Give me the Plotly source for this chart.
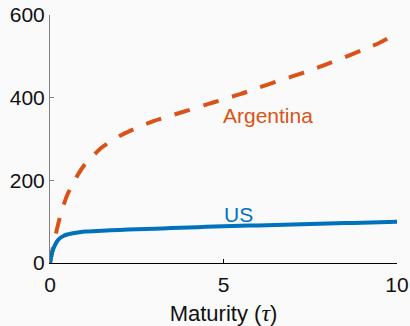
import plotly.graph_objects as go

# Maturities (years) and yields (basis points)
maturity = [0, 0.05, 0.1, 0.2, 0.3, 0.4, 0.5, 0.75, 1, 1.5, 2, 2.5, 3, 3.5, 4,
            4.5, 5, 5.5, 6, 6.5, 7, 7.5, 8, 8.5, 9, 9.5, 10]
argentina = [0, 22, 45, 82, 115, 142, 165, 206, 238, 280, 307, 327, 344, 357, 370,
             383, 396, 409, 424, 438, 452, 466, 482, 498, 515, 533, 555]
us = [0, 22, 35, 52, 61, 66, 69, 73, 76, 78, 80, 81.5, 83, 84.5, 86,
      87.5, 89, 90, 91, 92, 93, 94.3, 95.5, 96.5, 97.5, 98.8, 100]

x_ticks = [0, 5, 10]
y_ticks = [0, 200, 400, 600]

BLUE = "#0072BD"
ORANGE = "#D95319"
BG = "#fafafa"
FONT = "Liberation Sans, Arial, sans-serif"

fig = go.Figure()
fig.add_trace(go.Scatter(
    x=maturity, y=argentina, mode="lines",
    line=dict(color=ORANGE, width=4, dash="16px,14px", shape="spline", smoothing=0.6),
    showlegend=False, hoverinfo="skip", cliponaxis=False))
fig.add_trace(go.Scatter(
    x=maturity, y=us, mode="lines",
    line=dict(color=BLUE, width=4, shape="spline", smoothing=0.6),
    showlegend=False, hoverinfo="skip", cliponaxis=False))

fig.add_annotation(x=6.28, y=356, text="Argentina", showarrow=False,
                   font=dict(family=FONT, size=21, color=ORANGE))
fig.add_annotation(x=5.42, y=118, text="US", showarrow=False,
                   font=dict(family=FONT, size=21, color=BLUE))

fig.update_layout(
    width=410, height=326,
    margin=dict(l=50, r=13, t=15, b=63),
    paper_bgcolor=BG, plot_bgcolor=BG,
    font=dict(family=FONT, size=21, color="#111111"),
)
fig.update_xaxes(
    range=[0, 10], tickvals=x_ticks, ticktext=[str(v) for v in x_ticks],
    showgrid=False, zeroline=False, showline=True, linecolor="#000000", linewidth=1,
    ticks="inside", ticklen=4, tickcolor="#000000", automargin=False,
    ticklabelstandoff=3,
    title=dict(text="Maturity (<span style=\"font-family:'Liberation Serif';font-style:italic;font-size:24px\">τ</span>)",
               standoff=11, font=dict(size=22)),
)
fig.update_yaxes(
    range=[0, 600], tickvals=y_ticks, ticktext=[str(v) for v in y_ticks],
    showgrid=False, zeroline=False, showline=True, linecolor="#808080", linewidth=1,
    ticks="inside", ticklen=4, tickcolor="#808080", automargin=False,
)

fig.write_html("out.html")
